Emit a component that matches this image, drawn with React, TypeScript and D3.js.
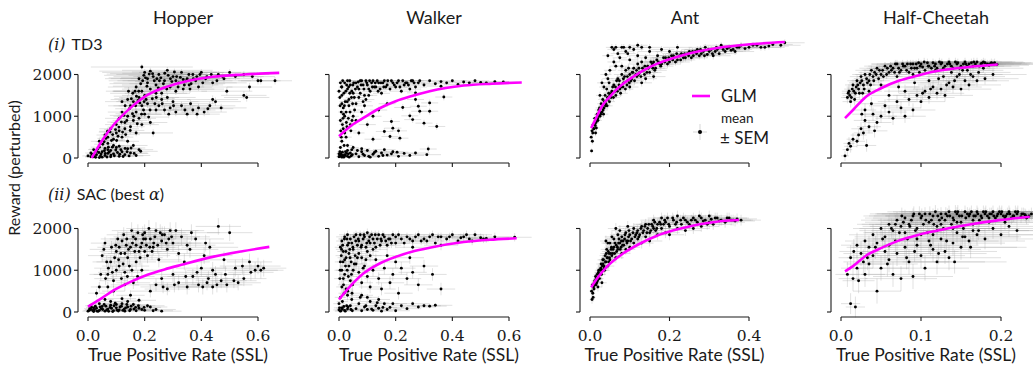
import React from 'react';
import * as d3 from 'd3';

type P = [number, number, number, number]; // x, y, xSEM, ySEM
type G = [number, number];

const envNames = ['Hopper', 'Walker', 'Ant', 'Half-Cheetah'];
const rowLabels = ['TD3', 'SAC (best '];
const xTicksByEnv = [
  [0, 0.2, 0.4, 0.6],
  [0, 0.2, 0.4, 0.6],
  [0, 0.2, 0.4],
  [0, 0.1, 0.2],
];
const yTicks = [0, 1000, 2000];

const hopperTD3: P[] = [
  [0.00,50,0.02,40],[0.01,120,0.02,50],[0.02,30,0.03,30],[0.03,80,0.03,40],[0.04,10,0.02,30],[0.05,150,0.03,50],[0.06,60,0.03,40],[0.07,200,0.04,60],[0.08,30,0.03,30],[0.09,100,0.04,50],[0.10,250,0.04,60],[0.11,40,0.03,40],[0.02,200,0.02,60],[0.04,260,0.03,60],[0.06,230,0.03,50],[0.12,150,0.05,50],[0.13,80,0.04,40],[0.08,180,0.03,50],[0.01,30,0.02,30],[0.05,20,0.03,30],[0.14,220,0.05,60],[0.03,160,0.02,50],[0.07,110,0.03,40],[0.15,120,0.06,50],[0.17,60,0.05,40],
  [0.04,400,0.03,80],[0.06,550,0.03,80],[0.07,350,0.03,70],[0.08,700,0.04,90],[0.09,450,0.04,80],[0.10,800,0.04,90],[0.10,600,0.04,80],[0.11,950,0.05,100],[0.12,500,0.04,80],[0.12,1100,0.05,100],[0.13,700,0.05,90],[0.13,850,0.05,90],[0.14,1000,0.05,100],[0.14,400,0.04,80],[0.15,1250,0.06,100],[0.15,750,0.05,90],[0.16,900,0.05,90],[0.16,1350,0.06,100],[0.17,1100,0.06,100],[0.17,600,0.05,80],[0.18,1450,0.07,100],[0.18,950,0.06,90],[0.19,1250,0.06,100],[0.19,800,0.06,90],[0.20,1500,0.08,100],[0.20,1050,0.06,100],[0.21,1300,0.07,100],[0.22,850,0.06,90],[0.09,300,0.04,70],[0.11,280,0.04,70],[0.16,300,0.05,70],[0.18,200,0.05,60],[0.23,600,0.07,90],[0.24,1150,0.08,100],[0.14,1400,0.06,100],[0.12,1350,0.06,100],[0.07,500,0.03,80],[0.11,650,0.04,90],
  [0.17,1700,0.10,90],[0.18,1900,0.12,90],[0.19,1600,0.10,90],[0.20,2050,0.15,80],[0.21,1800,0.12,90],[0.22,1650,0.10,90],[0.23,1950,0.14,80],[0.24,1750,0.12,90],[0.25,2000,0.15,80],[0.26,1550,0.10,90],[0.27,1850,0.13,90],[0.28,2100,0.16,80],[0.29,1700,0.12,90],[0.30,1950,0.14,80],[0.31,1600,0.11,90],[0.32,1800,0.13,90],[0.33,2050,0.15,80],[0.34,1750,0.12,90],[0.35,1900,0.14,80],[0.36,1650,0.12,90],[0.37,2000,0.15,80],[0.38,1850,0.13,90],[0.39,1700,0.12,90],[0.40,2050,0.14,80],[0.42,1950,0.13,80],[0.44,1800,0.12,90],[0.46,2000,0.12,80],[0.48,1900,0.12,90],[0.50,2050,0.10,80],[0.52,1950,0.10,80],[0.55,2000,0.09,80],[0.58,1950,0.08,80],[0.22,2080,0.18,80],[0.19,2180,0.18,70],[0.26,1400,0.10,100],[0.28,1450,0.10,100],[0.30,1350,0.09,100],[0.21,1900,0.13,90],[0.24,1550,0.11,90],[0.31,1850,0.13,90],
  [0.25,1250,0.08,100],[0.27,1150,0.08,100],[0.29,1200,0.08,100],[0.31,1100,0.08,100],[0.33,1250,0.09,100],[0.35,1050,0.08,100],[0.37,1150,0.08,100],[0.39,1200,0.09,100],[0.41,1100,0.08,100],[0.43,1250,0.09,100],[0.45,1350,0.09,100],[0.47,1200,0.09,100],
  [0.55,1500,0.08,100],[0.56,1450,0.08,100],[0.57,1700,0.08,100],[0.61,1850,0.07,90],[0.66,1850,0.06,90],[0.49,1600,0.09,100],[0.60,1850,0.07,90],
];
const hopperTD3More: P[] = [
  [0.015,90,0.02,40],[0.027,15,0.02,30],[0.033,210,0.03,50],[0.046,95,0.03,40],[0.058,175,0.03,50],[0.067,25,0.03,30],[0.074,140,0.03,40],[0.086,260,0.04,60],[0.093,55,0.03,40],[0.104,130,0.04,50],[0.116,200,0.04,50],[0.124,35,0.04,30],[0.138,150,0.05,50],[0.152,240,0.05,60],[0.163,110,0.05,40],[0.186,160,0.06,50],
  [0.052,330,0.03,70],[0.063,470,0.03,80],[0.078,620,0.04,80],[0.083,420,0.04,80],[0.097,680,0.04,90],[0.106,520,0.04,80],[0.118,860,0.05,90],[0.127,1020,0.05,100],[0.133,560,0.05,80],[0.146,1180,0.05,100],[0.157,1060,0.06,100],[0.168,1250,0.06,100],[0.174,820,0.06,90],[0.183,1320,0.07,100],[0.196,1150,0.07,100],[0.205,1400,0.08,100],[0.214,980,0.07,100],[0.227,1420,0.08,100],[0.236,1300,0.08,100],[0.158,1550,0.08,100],[0.171,1480,0.08,100],[0.143,1600,0.08,100],
  [0.186,1780,0.11,90],[0.197,1980,0.14,80],[0.208,1720,0.12,90],[0.216,2010,0.15,80],[0.234,1850,0.13,90],[0.248,1680,0.12,90],[0.257,1920,0.14,80],[0.266,1780,0.12,90],[0.283,1980,0.14,80],[0.296,1830,0.13,90],[0.305,2060,0.15,80],[0.318,1700,0.12,90],[0.326,1930,0.14,80],[0.347,1850,0.13,90],[0.356,2000,0.14,80],[0.364,1780,0.12,90],[0.384,1950,0.13,80],[0.405,1800,0.12,90],[0.415,1900,0.12,90],[0.435,2000,0.12,80],[0.455,1850,0.12,90],[0.475,1950,0.11,80],
  [0.262,1300,0.09,100],[0.285,1050,0.08,100],[0.302,1250,0.09,100],[0.342,1150,0.09,100],[0.362,1300,0.09,100],[0.385,1050,0.08,100],[0.423,1180,0.09,100],[0.44,1400,0.09,100],
];
const hopperTD3Extra: P[] = [
  [0.022,60,0.02,30],[0.038,130,0.02,40],[0.044,45,0.02,30],[0.061,110,0.03,40],[0.072,260,0.03,60],[0.081,70,0.03,30],[0.098,190,0.04,50],[0.112,90,0.04,40],[0.131,230,0.04,60],[0.145,50,0.05,30],
  [0.057,390,0.03,70],[0.069,640,0.03,80],[0.087,560,0.04,80],[0.101,420,0.04,70],[0.109,740,0.04,90],[0.122,620,0.05,80],[0.137,900,0.05,90],[0.149,660,0.05,90],[0.162,1000,0.06,100],[0.177,1380,0.07,100],[0.189,1050,0.07,100],[0.198,1350,0.07,100],[0.219,1150,0.07,100],[0.241,1450,0.08,100],[0.131,1250,0.06,100],[0.153,1420,0.06,100],[0.166,1600,0.08,100],[0.179,1600,0.09,100],
  [0.193,1850,0.12,90],[0.203,1920,0.13,90],[0.228,2020,0.15,80],[0.243,1900,0.13,90],[0.271,2030,0.15,80],[0.291,1900,0.14,80],[0.313,1950,0.14,80],[0.336,1880,0.13,90],[0.372,1900,0.13,80],[0.395,2000,0.13,80],[0.252,1850,0.13,90],[0.278,1650,0.11,90],[0.336,1650,0.11,90],[0.357,1750,0.12,90],
];

const hopperSAC: P[] = [
  [0.00,20,0.02,30],[0.01,60,0.02,40],[0.02,10,0.02,30],[0.03,90,0.03,40],[0.04,40,0.03,30],[0.05,130,0.03,50],[0.06,20,0.03,30],[0.07,70,0.03,40],[0.08,160,0.04,50],[0.09,30,0.04,30],[0.10,100,0.04,40],[0.11,50,0.04,40],[0.12,200,0.05,60],[0.13,20,0.04,30],[0.14,120,0.05,50],[0.15,60,0.05,40],[0.16,180,0.05,60],[0.17,30,0.05,30],[0.18,90,0.06,40],[0.20,40,0.06,30],[0.22,120,0.06,50],[0.24,60,0.07,40],[0.26,20,0.07,30],[0.08,250,0.04,60],[0.04,200,0.03,60],[0.12,320,0.05,80],[0.18,280,0.06,70],[0.01,150,0.02,50],[0.06,300,0.03,70],[0.02,100,0.02,40],[0.10,180,0.04,50],[0.14,250,0.05,60],
  [0.05,1350,0.05,150],[0.06,1650,0.05,150],[0.07,900,0.05,150],[0.08,1200,0.05,150],[0.09,750,0.05,150],[0.10,1450,0.06,180],[0.11,1100,0.06,150],[0.12,1700,0.06,180],[0.13,950,0.06,150],[0.14,1300,0.07,180],[0.15,1550,0.07,180],[0.16,1800,0.07,180],[0.17,1200,0.07,180],[0.18,1450,0.08,180],[0.19,1650,0.08,200],[0.20,1900,0.08,200],[0.21,1350,0.08,180],[0.22,1750,0.09,200],[0.23,1550,0.09,200],[0.24,1950,0.09,200],[0.25,1250,0.08,180],[0.26,1700,0.09,200],[0.27,1850,0.09,200],[0.28,1500,0.09,200],[0.29,1950,0.10,200],[0.30,1650,0.10,200],[0.31,1950,0.10,200],[0.32,1400,0.09,200],[0.07,600,0.04,120],[0.09,500,0.04,120],[0.10,1000,0.05,150],[0.13,650,0.05,150],[0.15,400,0.05,120],[0.16,700,0.06,150],[0.19,1000,0.07,180],[0.03,450,0.03,100],[0.04,600,0.03,120],[0.11,1550,0.06,180],[0.17,1600,0.07,180],[0.20,1450,0.08,200],[0.13,1400,0.06,180],
  [0.22,500,0.07,150],[0.24,650,0.08,150],[0.26,800,0.08,180],[0.28,550,0.08,150],[0.30,900,0.09,180],[0.32,700,0.09,180],[0.34,1200,0.09,200],[0.35,600,0.09,180],[0.36,1500,0.10,200],[0.37,850,0.09,180],[0.38,1750,0.10,200],[0.39,650,0.09,180],[0.40,1050,0.09,200],[0.41,1350,0.10,200],[0.42,700,0.09,180],[0.43,1550,0.10,200],[0.44,600,0.09,180],[0.45,900,0.09,200],[0.46,2050,0.08,200],[0.47,750,0.09,180],[0.48,1250,0.09,200],[0.49,650,0.09,180],[0.50,1900,0.08,200],[0.52,1050,0.09,200],[0.53,700,0.08,180],[0.55,800,0.08,180],[0.57,1200,0.08,200],[0.59,1000,0.08,200],[0.60,1100,0.08,200],[0.61,1000,0.08,200],[0.62,1050,0.08,200],[0.33,1800,0.10,200],[0.35,1600,0.10,200],[0.44,1000,0.09,200],
];
const hopperSACMore: P[] = [
  [0.006,80,0.02,40],[0.017,35,0.02,30],[0.026,140,0.03,50],[0.036,15,0.03,30],[0.047,75,0.03,40],[0.057,180,0.03,50],[0.066,50,0.03,40],[0.078,110,0.04,40],[0.087,10,0.04,30],[0.096,210,0.04,60],[0.107,25,0.04,30],[0.118,140,0.05,50],[0.128,70,0.05,40],[0.137,180,0.05,50],[0.147,30,0.05,30],[0.168,110,0.05,40],[0.19,60,0.06,40],[0.21,150,0.06,50],[0.23,30,0.07,30],
  [0.056,1500,0.05,150],[0.066,1200,0.05,150],[0.083,1550,0.05,150],[0.094,1300,0.05,150],[0.105,1750,0.06,180],[0.116,1400,0.06,180],[0.126,1850,0.06,180],[0.135,1600,0.06,180],[0.146,1100,0.07,180],[0.154,1950,0.07,200],[0.165,1450,0.07,180],[0.176,1900,0.07,200],[0.184,1300,0.08,180],[0.196,1750,0.08,200],[0.206,1600,0.08,200],[0.215,2000,0.08,200],[0.226,1450,0.09,200],[0.236,1800,0.09,200],[0.246,1600,0.09,200],[0.255,1900,0.09,200],[0.276,1650,0.09,200],[0.295,1800,0.10,200],[0.086,950,0.05,150],[0.124,1150,0.06,150],[0.155,1000,0.06,150],[0.175,850,0.06,150],
  [0.265,600,0.08,150],[0.305,650,0.09,180],[0.345,850,0.09,180],[0.385,950,0.09,180],[0.405,600,0.09,180],[0.425,800,0.09,180],[0.455,650,0.09,180],[0.485,900,0.09,200],[0.515,750,0.08,180],[0.545,1100,0.08,200],[0.575,950,0.08,200],[0.415,1650,0.10,200],[0.365,1900,0.10,200],
];
const hopperSACExtra: P[] = [
  [0.004,40,0.02,30],[0.013,110,0.02,40],[0.023,55,0.02,30],[0.032,20,0.03,30],[0.043,120,0.03,40],[0.052,60,0.03,30],[0.063,140,0.03,40],[0.073,15,0.03,30],[0.083,90,0.04,40],[0.092,150,0.04,50],[0.102,45,0.04,30],[0.113,120,0.04,40],[0.123,40,0.05,30],[0.133,100,0.05,40],[0.152,140,0.05,50],[0.162,70,0.05,40],[0.178,150,0.06,50],[0.198,110,0.06,40],
  [0.072,1050,0.05,150],[0.098,1600,0.05,180],[0.108,1250,0.06,150],[0.137,1750,0.06,180],[0.143,1500,0.07,180],[0.157,1650,0.07,180],[0.168,1750,0.07,180],[0.186,1550,0.08,180],[0.193,1850,0.08,200],[0.203,1750,0.08,200],[0.218,1550,0.09,200],[0.232,1650,0.09,200],[0.262,1850,0.09,200],[0.285,1750,0.09,200],[0.118,800,0.05,150],[0.139,850,0.06,150],[0.062,800,0.04,150],[0.045,900,0.04,150],
];

const walkerTD3: P[] = [
  [0.00,100,0.01,40],[0.00,30,0.01,30],[0.005,60,0.01,30],[0.01,1700,0.01,60],[0.01,1500,0.01,60],[0.015,1200,0.01,70],[0.005,900,0.01,70],[0.02,1800,0.02,50],[0.02,600,0.01,70],[0.01,400,0.01,60],[0.025,1100,0.02,70],[0.03,1650,0.02,60],[0.03,300,0.02,60],[0.035,1400,0.02,70],[0.04,800,0.02,70],[0.04,1750,0.02,50],[0.045,200,0.02,50],[0.05,1550,0.02,60],[0.05,1000,0.02,70],[0.01,1300,0.01,70],[0.02,1000,0.01,70],[0.03,1850,0.02,50],[0.00,1600,0.01,60],[0.015,700,0.01,70],[0.025,500,0.02,60],[0.005,250,0.01,50],[0.01,20,0.01,30],[0.02,80,0.01,30],[0.03,40,0.02,30],[0.04,120,0.02,40],[0.005,1800,0.01,50],[0.035,1250,0.02,70],[0.045,1600,0.02,60],
  [0.06,1800,0.03,50],[0.07,1650,0.03,60],[0.08,1850,0.03,50],[0.09,1500,0.03,60],[0.10,1750,0.03,50],[0.11,1600,0.03,60],[0.12,1850,0.03,50],[0.13,1700,0.03,60],[0.14,1800,0.03,50],[0.15,1550,0.03,60],[0.16,1850,0.03,50],[0.17,1750,0.03,50],[0.18,1650,0.03,60],[0.19,1800,0.04,50],[0.20,1700,0.04,50],[0.21,1850,0.04,50],[0.22,1600,0.04,60],[0.23,1750,0.04,50],[0.24,1800,0.04,50],[0.25,1650,0.04,60],[0.26,1850,0.04,50],[0.27,1700,0.04,50],[0.28,1800,0.04,50],[0.30,1750,0.04,50],[0.06,1300,0.02,70],[0.07,1450,0.02,70],[0.08,1100,0.02,70],[0.09,1250,0.03,70],[0.06,900,0.02,70],[0.07,600,0.02,70],
  [0.32,1850,0.05,40],[0.34,1780,0.05,40],[0.36,1830,0.05,40],[0.38,1800,0.05,40],[0.40,1850,0.05,40],[0.42,1760,0.05,40],[0.44,1820,0.05,40],[0.46,1800,0.05,40],[0.48,1850,0.05,40],[0.50,1810,0.05,40],[0.52,1800,0.05,40],[0.55,1830,0.05,40],[0.58,1820,0.05,40],[0.36,1720,0.05,40],
  [0.225,1210,0.03,80],[0.25,1010,0.03,80],[0.26,920,0.03,80],[0.28,1240,0.03,80],[0.285,1120,0.03,80],[0.30,835,0.03,80],[0.32,1120,0.03,80],[0.32,1320,0.03,80],[0.345,755,0.03,80],[0.37,1460,0.03,80],[0.185,875,0.03,80],[0.19,715,0.03,80],[0.16,635,0.03,80],[0.12,450,0.03,80],[0.21,650,0.03,80],[0.215,475,0.03,80],[0.18,515,0.03,80],[0.315,215,0.03,80],[0.27,1400,0.03,80],[0.27,1560,0.03,80],[0.10,800,0.03,80],[0.12,1000,0.03,80],[0.14,1150,0.03,80],[0.17,1300,0.03,80],
  [0.06,100,0.03,40],[0.07,30,0.03,30],[0.08,150,0.03,40],[0.09,60,0.03,30],[0.10,180,0.03,40],[0.11,20,0.03,30],[0.12,90,0.03,40],[0.13,160,0.04,40],[0.14,40,0.04,30],[0.15,120,0.04,40],[0.17,70,0.04,30],[0.19,150,0.04,40],[0.21,40,0.04,30],[0.23,110,0.05,40],[0.25,60,0.05,30],[0.27,120,0.05,40],[0.31,80,0.05,40],[0.08,220,0.03,50],[0.05,250,0.02,50],[0.16,200,0.04,50],[0.03,180,0.02,40],
];
const walkerTD3More: P[] = [
  [0.003,1450,0.01,60],[0.008,1100,0.01,70],[0.012,800,0.01,70],[0.017,1550,0.01,60],[0.022,1350,0.02,70],[0.027,1750,0.02,50],[0.033,950,0.02,70],[0.038,1550,0.02,60],[0.042,650,0.02,70],[0.048,1300,0.02,70],[0.052,1800,0.02,50],[0.055,1150,0.02,70],[0.008,500,0.01,60],[0.018,300,0.01,50],[0.028,750,0.02,70],[0.003,150,0.01,40],[0.013,60,0.01,30],[0.023,150,0.01,40],[0.033,100,0.02,40],[0.043,50,0.02,30],[0.013,1850,0.01,50],[0.038,1850,0.02,50],
  [0.065,1700,0.03,50],[0.075,1850,0.03,50],[0.085,1750,0.03,50],[0.095,1850,0.03,50],[0.105,1650,0.03,60],[0.115,1800,0.03,50],[0.125,1700,0.03,50],[0.135,1850,0.03,50],[0.145,1650,0.03,60],[0.155,1800,0.03,50],[0.165,1700,0.03,50],[0.185,1850,0.04,50],[0.205,1800,0.04,50],[0.225,1850,0.04,50],[0.245,1750,0.04,50],[0.265,1800,0.04,50],[0.285,1850,0.04,50],[0.075,1550,0.03,60],[0.095,1400,0.03,70],[0.105,1500,0.03,60],[0.085,1350,0.03,70],
  [0.065,180,0.03,40],[0.085,90,0.03,40],[0.105,40,0.03,30],[0.125,130,0.04,40],[0.155,60,0.04,30],[0.185,100,0.04,40],[0.205,140,0.04,40],
];
const walkerTD3Extra: P[] = [
  [0.002,40,0.01,30],[0.007,90,0.01,30],[0.012,140,0.01,40],[0.017,20,0.01,30],[0.022,60,0.01,30],[0.027,110,0.02,40],[0.036,20,0.02,30],[0.047,80,0.02,30],[0.004,1250,0.01,70],[0.009,1700,0.01,60],[0.014,950,0.01,70],[0.019,1250,0.01,70],[0.024,1600,0.02,60],[0.029,1350,0.02,70],[0.034,1700,0.02,60],[0.039,1100,0.02,70],[0.044,1450,0.02,70],[0.049,1750,0.02,50],[0.054,1450,0.02,70],[0.058,1650,0.02,60],[0.006,650,0.01,70],[0.016,1050,0.01,70],[0.026,850,0.02,70],[0.046,900,0.02,70],
  [0.068,1820,0.03,50],[0.078,1750,0.03,50],[0.088,1650,0.03,60],[0.098,1800,0.03,50],[0.108,1850,0.03,50],[0.118,1700,0.03,50],[0.128,1800,0.03,50],[0.138,1600,0.03,60],[0.148,1800,0.03,50],[0.158,1700,0.03,50],[0.172,1850,0.03,50],[0.195,1750,0.04,50],[0.215,1700,0.04,50],[0.235,1800,0.04,50],[0.255,1850,0.04,50],
];

const walkerSAC: P[] = [
  [0.00,50,0.02,40],[0.005,20,0.02,30],[0.01,100,0.02,50],[0.00,200,0.02,60],[0.01,1700,0.02,120],[0.015,1450,0.02,150],[0.005,1200,0.02,150],[0.02,1800,0.03,100],[0.02,900,0.02,150],[0.01,600,0.02,150],[0.025,1300,0.03,150],[0.03,1600,0.03,150],[0.03,400,0.02,120],[0.035,1100,0.03,150],[0.04,750,0.03,150],[0.04,1750,0.03,120],[0.045,300,0.03,100],[0.05,1500,0.03,150],[0.05,1000,0.03,150],[0.01,1000,0.02,150],[0.02,1250,0.02,150],[0.03,1850,0.03,100],[0.015,800,0.02,150],[0.025,550,0.02,120],[0.005,350,0.02,100],[0.02,40,0.02,30],[0.03,70,0.02,40],[0.04,150,0.03,50],[0.035,1400,0.03,150],[0.045,1650,0.03,130],[0.005,1550,0.02,130],
  [0.06,1850,0.04,100],[0.07,1700,0.04,120],[0.08,1600,0.04,120],[0.09,1800,0.04,100],[0.10,1900,0.04,100],[0.11,1650,0.04,120],[0.12,1750,0.05,120],[0.13,1550,0.05,120],[0.14,1850,0.05,100],[0.15,1700,0.05,120],[0.16,1800,0.05,100],[0.17,1600,0.05,120],[0.18,1750,0.05,120],[0.19,1850,0.05,100],[0.20,1650,0.05,120],[0.22,1750,0.05,120],[0.24,1800,0.05,100],[0.26,1700,0.06,120],[0.28,1850,0.06,100],[0.30,1750,0.06,100],[0.32,1800,0.06,100],[0.34,1650,0.06,120],[0.36,1800,0.06,100],[0.38,1750,0.06,100],[0.40,1850,0.06,100],[0.42,1700,0.06,100],[0.44,1800,0.06,100],[0.46,1750,0.06,100],[0.48,1850,0.06,100],[0.50,1780,0.06,100],[0.52,1760,0.06,100],[0.55,1800,0.06,100],[0.62,1790,0.06,100],[0.07,1400,0.04,150],[0.08,1300,0.04,150],[0.10,1450,0.04,150],[0.12,1500,0.05,150],[0.11,1350,0.04,150],[0.36,1600,0.06,120],[0.26,1550,0.06,120],
  [0.06,1150,0.04,150],[0.07,950,0.04,150],[0.08,700,0.04,150],[0.09,1100,0.04,150],[0.10,850,0.04,150],[0.11,600,0.04,150],[0.12,1000,0.04,150],[0.13,1250,0.05,150],[0.14,800,0.05,150],[0.15,550,0.05,150],[0.16,1050,0.05,150],[0.17,1350,0.05,150],[0.18,700,0.05,150],[0.19,900,0.05,150],[0.20,1200,0.05,150],[0.21,450,0.05,150],[0.22,1050,0.05,150],[0.24,800,0.05,150],[0.26,950,0.05,150],[0.28,650,0.05,150],[0.30,1100,0.05,150],[0.33,900,0.05,150],[0.36,550,0.05,150],[0.25,1300,0.05,150],
  [0.06,80,0.03,40],[0.07,200,0.03,60],[0.08,30,0.03,30],[0.09,120,0.03,50],[0.10,60,0.04,40],[0.11,250,0.04,60],[0.12,40,0.04,30],[0.13,150,0.04,50],[0.14,90,0.04,40],[0.15,20,0.04,30],[0.16,200,0.05,60],[0.17,60,0.05,40],[0.18,110,0.05,50],[0.20,30,0.05,30],[0.22,150,0.05,50],[0.24,80,0.05,40],[0.26,200,0.06,60],[0.28,120,0.06,50],[0.30,150,0.06,50],[0.32,140,0.06,50],[0.34,160,0.06,50],[0.10,350,0.04,80],[0.08,400,0.04,80],[0.14,300,0.04,80],
];
const walkerSACMore: P[] = [
  [0.003,800,0.02,150],[0.008,1350,0.02,150],[0.013,1600,0.02,130],[0.018,450,0.02,120],[0.023,1100,0.02,150],[0.028,1750,0.03,120],[0.033,850,0.03,150],[0.038,1500,0.03,150],[0.043,1200,0.03,150],[0.048,650,0.03,150],[0.053,1800,0.03,120],[0.057,1350,0.03,150],[0.012,250,0.02,60],[0.027,150,0.02,50],[0.042,60,0.03,40],
  [0.065,1600,0.04,130],[0.075,1850,0.04,100],[0.085,1750,0.04,120],[0.095,1550,0.04,130],[0.105,1700,0.04,120],[0.115,1850,0.04,100],[0.125,1650,0.05,120],[0.135,1750,0.05,120],[0.145,1600,0.05,120],[0.155,1850,0.05,100],[0.175,1750,0.05,120],[0.21,1850,0.05,100],[0.23,1650,0.05,120],[0.27,1800,0.06,100],[0.31,1700,0.06,100],[0.35,1800,0.06,100],[0.43,1780,0.06,100],[0.47,1700,0.06,100],
  [0.065,1300,0.04,150],[0.085,1050,0.04,150],[0.095,1250,0.04,150],[0.075,350,0.04,80],[0.095,150,0.04,50],[0.115,70,0.04,40],[0.135,220,0.04,60],[0.155,110,0.05,50],[0.19,200,0.05,60],
];
const walkerSACExtra: P[] = [
  [0.002,100,0.02,40],[0.007,30,0.02,30],[0.012,70,0.02,40],[0.017,130,0.02,50],[0.022,20,0.02,30],[0.032,120,0.02,40],[0.047,30,0.03,30],[0.004,1000,0.02,150],[0.009,1500,0.02,130],[0.014,1200,0.02,150],[0.019,1750,0.02,120],[0.024,1450,0.03,150],[0.029,1000,0.03,150],[0.034,1650,0.03,130],[0.039,1300,0.03,150],[0.044,900,0.03,150],[0.049,1550,0.03,150],[0.054,1150,0.03,150],[0.059,1700,0.03,130],[0.016,650,0.02,150],[0.031,500,0.02,120],[0.046,450,0.03,120],
  [0.068,1750,0.04,120],[0.078,1550,0.04,130],[0.088,1850,0.04,100],[0.098,1650,0.04,120],[0.108,1800,0.04,100],[0.128,1850,0.05,100],[0.148,1750,0.05,120],[0.165,1700,0.05,120],[0.185,1650,0.05,120],[0.2,1800,0.05,100],[0.25,1750,0.06,100],[0.29,1700,0.06,100],[0.33,1850,0.06,100],[0.39,1800,0.06,100],[0.45,1850,0.06,100],[0.51,1750,0.06,100],
];

const antTD3: P[] = [
  [0.004,170,0.005,60],[0.003,500,0.005,80],[0.005,650,0.005,80],[0.006,400,0.005,80],[0.008,800,0.006,80],[0.01,700,0.006,80],[0.012,950,0.007,90],[0.014,600,0.007,80],[0.015,850,0.008,90],[0.018,1050,0.008,90],[0.02,900,0.01,90],[0.022,1150,0.01,90],[0.025,1000,0.01,90],[0.028,1300,0.01,90],[0.03,1100,0.01,90],[0.032,1400,0.012,90],[0.035,1200,0.012,90],[0.038,1500,0.012,90],[0.04,1300,0.012,90],[0.042,1650,0.014,90],[0.045,1400,0.014,90],[0.048,1800,0.014,90],[0.05,1500,0.015,90],[0.05,2100,0.015,90],[0.055,1600,0.015,90],[0.06,1750,0.016,90],[0.06,2300,0.016,90],[0.065,1500,0.016,90],[0.07,1900,0.018,90],[0.07,2500,0.018,80],[0.075,1650,0.018,90],[0.08,2000,0.02,90],[0.08,2200,0.02,90],[0.085,1800,0.02,90],[0.09,2100,0.02,90],[0.09,2550,0.02,80],[0.095,1850,0.02,90],[0.10,2000,0.022,90],[0.10,2350,0.022,90],[0.105,1900,0.022,90],[0.11,2150,0.024,90],[0.11,2600,0.024,80],[0.115,2000,0.024,90],[0.12,2250,0.025,90],[0.12,2450,0.025,90],[0.125,2050,0.025,90],[0.13,2300,0.026,90],[0.135,2100,0.026,90],[0.14,2400,0.028,90],[0.145,2200,0.028,90],[0.15,2050,0.03,90],[0.15,2550,0.03,80],[0.16,2300,0.03,90],[0.165,2150,0.03,90],[0.17,2450,0.032,90],[0.18,2250,0.032,90],[0.18,2600,0.032,80],[0.19,2400,0.034,90],[0.20,2300,0.035,90],[0.20,2550,0.035,80],[0.21,2450,0.035,90],[0.22,2350,0.036,90],[0.22,2650,0.036,80],[0.23,2500,0.038,90],[0.24,2400,0.04,90],[0.25,2550,0.04,80],[0.26,2450,0.04,90],[0.27,2600,0.04,80],[0.28,2500,0.042,90],[0.29,2650,0.042,80],[0.30,2550,0.044,80],[0.31,2450,0.044,90],[0.32,2600,0.045,80],[0.33,2700,0.045,80],[0.34,2550,0.046,80],[0.35,2650,0.046,80],[0.36,2600,0.048,80],[0.38,2700,0.05,80],[0.40,2650,0.05,80],[0.42,2700,0.05,80],[0.44,2650,0.05,80],[0.46,2720,0.05,80],[0.48,2700,0.05,80],[0.49,2760,0.05,80],[0.03,1800,0.012,90],[0.04,2000,0.014,90],[0.06,2600,0.016,80],[0.025,1500,0.01,90],[0.10,1700,0.022,90],[0.13,1800,0.026,90],[0.16,1950,0.03,90],[0.14,1900,0.028,90],[0.08,2650,0.02,80],[0.12,2700,0.025,80],[0.055,2650,0.015,80],[0.10,2650,0.022,80],[0.15,2650,0.03,80],
];
const antTD3More: P[] = [
  [0.007,600,0.005,80],[0.011,820,0.006,80],[0.016,720,0.008,90],[0.019,950,0.008,90],[0.024,1200,0.01,90],[0.027,1050,0.01,90],[0.033,1150,0.012,90],[0.036,1350,0.012,90],[0.043,1250,0.014,90],[0.047,1550,0.014,90],[0.053,1450,0.015,90],[0.057,1700,0.016,90],[0.063,1600,0.016,90],[0.067,1850,0.018,90],[0.073,1750,0.018,90],[0.077,1550,0.018,90],[0.083,1700,0.02,90],[0.087,1950,0.02,90],[0.093,1750,0.02,90],[0.097,2150,0.022,90],[0.103,1850,0.022,90],[0.108,2050,0.022,90],[0.118,1950,0.024,90],[0.123,2150,0.025,90],[0.128,1950,0.026,90],[0.138,2200,0.027,90],[0.143,2050,0.028,90],[0.153,2300,0.03,90],[0.158,2150,0.03,90],[0.168,2350,0.032,90],[0.175,2250,0.032,90],[0.185,2400,0.033,90],[0.195,2250,0.034,90],[0.205,2450,0.035,90],[0.215,2300,0.036,90],[0.225,2450,0.037,90],[0.235,2400,0.038,90],[0.245,2500,0.04,90],[0.255,2400,0.04,90],[0.265,2550,0.04,90],[0.275,2450,0.04,90],[0.285,2550,0.042,90],[0.295,2480,0.042,90],[0.305,2600,0.044,80],[0.315,2550,0.044,80],[0.325,2500,0.045,80],[0.345,2620,0.046,80],[0.365,2550,0.048,80],[0.375,2650,0.05,80],[0.41,2700,0.05,80],[0.43,2650,0.05,80],[0.035,1700,0.012,90],[0.045,1900,0.014,90],[0.065,2200,0.016,90],[0.075,2400,0.018,90],[0.085,2650,0.02,80],[0.095,2500,0.02,80],[0.065,2650,0.016,80],[0.13,2650,0.026,80],[0.045,2450,0.014,80],
];
const antTD3Extra: P[] = [
  [0.009,700,0.005,80],[0.013,780,0.006,80],[0.017,900,0.008,90],[0.021,1000,0.008,90],[0.026,1100,0.01,90],[0.031,1250,0.01,90],[0.034,1050,0.012,90],[0.039,1250,0.012,90],[0.044,1450,0.014,90],[0.049,1350,0.014,90],[0.054,1550,0.015,90],[0.059,1450,0.016,90],[0.064,1700,0.016,90],[0.069,1600,0.018,90],[0.074,1850,0.018,90],[0.079,1700,0.02,90],[0.084,1900,0.02,90],[0.089,1650,0.02,90],[0.094,1950,0.02,90],[0.099,1800,0.022,90],[0.106,2050,0.022,90],[0.112,1850,0.024,90],[0.117,2100,0.024,90],[0.122,2000,0.025,90],[0.132,2150,0.026,90],[0.137,2000,0.026,90],[0.147,2150,0.028,90],[0.157,2250,0.03,90],[0.163,2100,0.03,90],[0.172,2300,0.032,90],[0.178,2200,0.032,90],[0.188,2300,0.033,90],[0.198,2400,0.034,90],[0.208,2350,0.035,90],[0.218,2500,0.036,90],[0.228,2350,0.037,90],[0.238,2500,0.038,90],[0.248,2450,0.04,90],[0.258,2550,0.04,90],[0.268,2500,0.04,90],[0.278,2600,0.04,90],[0.288,2450,0.042,90],[0.298,2600,0.042,80],[0.308,2500,0.044,80],[0.318,2650,0.044,80],[0.335,2600,0.045,80],[0.355,2580,0.046,80],[0.37,2650,0.048,80],[0.39,2620,0.05,80],[0.45,2680,0.05,80],
];

const antSAC: P[] = [
  [0.005,300,0.006,100],[0.008,350,0.006,100],[0.004,500,0.006,100],[0.006,650,0.006,100],[0.01,550,0.007,100],[0.012,750,0.008,110],[0.015,650,0.008,110],[0.018,900,0.009,110],[0.02,800,0.01,110],[0.022,1000,0.01,120],[0.025,900,0.011,120],[0.028,1150,0.012,120],[0.03,1000,0.012,120],[0.032,1250,0.013,120],[0.035,1100,0.013,120],[0.038,1350,0.014,120],[0.04,1200,0.015,120],[0.042,1500,0.015,130],[0.045,1100,0.016,120],[0.048,1400,0.016,130],[0.05,1250,0.017,130],[0.05,1650,0.017,130],[0.055,1350,0.018,130],[0.06,1550,0.019,130],[0.06,1750,0.019,130],[0.065,1300,0.02,130],[0.07,1500,0.02,130],[0.075,1650,0.021,130],[0.08,1400,0.022,130],[0.08,1800,0.022,130],[0.085,1600,0.023,130],[0.09,1500,0.024,130],[0.09,1900,0.024,130],[0.095,1700,0.025,130],[0.10,1550,0.026,130],[0.10,1850,0.026,130],[0.11,1650,0.027,130],[0.11,2000,0.027,130],[0.12,1750,0.028,130],[0.12,1950,0.028,130],[0.13,1650,0.03,130],[0.13,2050,0.03,130],[0.14,1800,0.03,130],[0.14,2100,0.03,130],[0.15,1900,0.032,130],[0.15,1700,0.032,130],[0.16,2000,0.033,130],[0.16,2200,0.033,130],[0.17,1850,0.034,130],[0.17,2100,0.034,130],[0.18,2000,0.035,130],[0.18,2250,0.035,130],[0.19,1900,0.036,130],[0.19,2150,0.036,130],[0.20,2050,0.037,130],[0.20,1850,0.037,130],[0.21,2200,0.038,130],[0.22,2000,0.04,130],[0.22,2300,0.04,130],[0.23,2100,0.04,130],[0.24,2200,0.04,130],[0.24,1950,0.04,130],[0.25,2100,0.042,130],[0.26,2250,0.042,130],[0.26,2000,0.042,130],[0.27,2150,0.044,130],[0.28,2250,0.045,130],[0.28,2050,0.045,130],[0.29,2200,0.046,130],[0.30,2150,0.047,130],[0.30,2300,0.047,130],[0.31,2100,0.048,130],[0.32,2250,0.05,130],[0.33,2200,0.05,130],[0.34,2150,0.05,130],[0.35,2250,0.05,130],[0.36,2200,0.05,130],[0.37,2230,0.05,130],[0.38,2200,0.05,130],[0.04,1700,0.015,130],[0.07,1850,0.02,130],[0.065,2000,0.02,130],[0.03,700,0.012,110],[0.02,600,0.01,110],
];
const antSACMore: P[] = [
  [0.007,450,0.006,100],[0.011,700,0.007,100],[0.014,850,0.008,110],[0.017,700,0.008,110],[0.021,950,0.01,110],[0.024,800,0.01,120],[0.027,1050,0.011,120],[0.033,1150,0.012,120],[0.037,1000,0.013,120],[0.043,1300,0.015,120],[0.047,1200,0.016,120],[0.053,1500,0.017,130],[0.057,1400,0.018,130],[0.063,1650,0.019,130],[0.067,1450,0.02,130],[0.073,1750,0.021,130],[0.078,1550,0.022,130],[0.083,1700,0.022,130],[0.088,1850,0.023,130],[0.093,1650,0.024,130],[0.098,1950,0.025,130],[0.105,1750,0.026,130],[0.115,1850,0.027,130],[0.125,1850,0.028,130],[0.135,1950,0.03,130],[0.145,2000,0.03,130],[0.155,2100,0.032,130],[0.165,1950,0.033,130],[0.175,2150,0.034,130],[0.185,2100,0.035,130],[0.195,2250,0.036,130],[0.215,2100,0.038,130],[0.235,2250,0.04,130],[0.255,2200,0.042,130],[0.275,2300,0.044,130],[0.295,2100,0.046,130],[0.315,2250,0.048,130],[0.345,2250,0.05,130],[0.365,2180,0.05,130],[0.055,1800,0.018,130],[0.075,1950,0.021,130],[0.095,2050,0.025,130],[0.045,1650,0.016,130],
];
const antSACExtra: P[] = [
  [0.009,600,0.006,100],[0.013,650,0.007,100],[0.016,800,0.008,110],[0.019,750,0.008,110],[0.023,900,0.01,110],[0.026,1000,0.01,120],[0.029,900,0.011,120],[0.031,1100,0.012,120],[0.034,1250,0.012,120],[0.036,1050,0.013,120],[0.039,1200,0.014,120],[0.041,1400,0.015,120],[0.044,1300,0.015,120],[0.046,1450,0.016,120],[0.049,1300,0.016,130],[0.052,1400,0.017,130],[0.054,1550,0.018,130],[0.058,1500,0.018,130],[0.062,1400,0.019,130],[0.066,1600,0.02,130],[0.069,1550,0.02,130],[0.072,1650,0.021,130],[0.076,1500,0.021,130],[0.079,1700,0.022,130],[0.082,1600,0.022,130],[0.087,1750,0.023,130],[0.092,1700,0.024,130],[0.097,1800,0.025,130],[0.102,1700,0.026,130],[0.108,1900,0.026,130],[0.113,1800,0.027,130],[0.118,1900,0.028,130],[0.123,1800,0.028,130],[0.128,2000,0.03,130],[0.133,1900,0.03,130],[0.138,2050,0.03,130],[0.143,1900,0.03,130],[0.148,2100,0.032,130],[0.153,1950,0.032,130],[0.158,2050,0.033,130],[0.163,2150,0.033,130],[0.168,2000,0.034,130],[0.178,2100,0.035,130],[0.188,2200,0.036,130],[0.198,2100,0.037,130],[0.208,2250,0.038,130],[0.218,2150,0.04,130],[0.228,2200,0.04,130],[0.245,2150,0.042,130],[0.265,2200,0.044,130],[0.285,2180,0.046,130],[0.305,2220,0.048,130],[0.325,2180,0.05,130],[0.355,2200,0.05,130],
];

const cheetahTD3: P[] = [
  [0.005,50,0.005,120],[0.008,200,0.006,150],[0.01,350,0.007,150],[0.012,280,0.008,150],[0.015,450,0.008,150],[0.02,400,0.01,150],[0.022,550,0.01,150],[0.025,700,0.012,160],[0.028,600,0.012,160],[0.03,900,0.014,160],[0.032,300,0.012,150],[0.035,750,0.015,160],[0.04,1050,0.016,160],[0.042,650,0.016,160],[0.045,850,0.018,160],[0.05,1000,0.02,160],[0.026,1050,0.012,160],[0.03,1150,0.014,160],[0.038,1300,0.016,160],[0.055,1250,0.02,160],[0.06,1100,0.022,160],[0.065,950,0.022,160],[0.07,1350,0.024,160],[0.075,1200,0.025,160],[0.08,1000,0.026,160],[0.085,1400,0.028,160],[0.09,1150,0.028,160],[0.095,1500,0.03,160],[0.10,1350,0.03,160],[0.105,1600,0.032,150],[0.11,1450,0.032,150],[0.115,1700,0.034,150],[0.12,1550,0.034,150],[0.125,1650,0.035,150],[0.13,1500,0.035,150],[0.135,1800,0.036,150],[0.14,1700,0.036,150],[0.145,1950,0.038,140],[0.15,1650,0.038,150],[0.155,1850,0.04,140],[0.16,1750,0.04,140],[0.165,1950,0.04,140],[0.17,1850,0.04,140],[0.18,1900,0.042,140],[0.19,2000,0.042,140],[0.08,1600,0.026,160],[0.06,1500,0.022,160],[0.11,1850,0.032,150],
  [0.008,1450,0.008,140],[0.01,1600,0.009,140],[0.012,1350,0.01,140],[0.015,1750,0.01,130],[0.018,1550,0.012,140],[0.02,1850,0.012,130],[0.022,1650,0.014,130],[0.025,1950,0.014,120],[0.028,1750,0.015,130],[0.03,2000,0.016,120],[0.035,1850,0.018,120],[0.038,2100,0.02,110],[0.04,1950,0.02,120],[0.045,2150,0.022,110],[0.05,2000,0.024,110],[0.055,2200,0.026,100],[0.06,2050,0.028,110],[0.065,2150,0.03,100],[0.07,2250,0.032,100],[0.075,2100,0.032,100],[0.08,2200,0.034,100],[0.085,2050,0.034,100],[0.09,2250,0.036,100],[0.095,2150,0.036,100],[0.10,2250,0.038,100],[0.105,2100,0.038,100],[0.11,2200,0.04,100],[0.115,2280,0.04,100],[0.12,2150,0.04,100],[0.125,2250,0.042,100],[0.13,2200,0.042,100],[0.135,2300,0.044,100],[0.14,2150,0.044,100],[0.145,2250,0.045,100],[0.15,2200,0.045,100],[0.155,2300,0.046,100],[0.16,2250,0.046,100],[0.165,2200,0.048,100],[0.17,2300,0.048,100],[0.175,2250,0.05,100],[0.18,2280,0.05,100],[0.185,2220,0.05,100],[0.19,2260,0.05,100],[0.195,2240,0.05,100],[0.05,1750,0.024,120],[0.07,1950,0.03,110],[0.09,2000,0.034,110],[0.035,1600,0.016,130],
];
const cheetahTD3More: P[] = [
  [0.011,1500,0.009,140],[0.014,1650,0.01,140],[0.017,1400,0.011,140],[0.019,1700,0.012,130],[0.024,1800,0.014,130],[0.027,1550,0.015,130],[0.032,1900,0.016,120],[0.037,1750,0.018,120],[0.042,2050,0.02,110],[0.047,1900,0.022,110],[0.052,2100,0.024,110],[0.057,2000,0.026,110],[0.062,2200,0.028,100],[0.067,2050,0.03,100],[0.072,2150,0.032,100],[0.077,2250,0.032,100],[0.082,2100,0.034,100],[0.087,2250,0.034,100],[0.092,2150,0.036,100],[0.097,2280,0.036,100],[0.102,2180,0.038,100],[0.108,2280,0.038,100],[0.113,2150,0.04,100],[0.118,2250,0.04,100],[0.123,2300,0.042,100],[0.128,2150,0.042,100],[0.133,2250,0.044,100],[0.138,2200,0.044,100],[0.143,2300,0.045,100],[0.148,2150,0.045,100],[0.153,2250,0.046,100],[0.158,2200,0.046,100],[0.163,2280,0.048,100],[0.168,2250,0.048,100],[0.173,2200,0.05,100],[0.178,2300,0.05,100],[0.183,2250,0.05,100],[0.188,2280,0.05,100],
  [0.072,1700,0.026,140],[0.092,1800,0.03,140],[0.112,1650,0.032,140],[0.122,1900,0.034,140],[0.142,1850,0.036,140],[0.162,2000,0.04,140],[0.102,1550,0.03,150],[0.132,1750,0.036,150],[0.152,2100,0.04,140],[0.172,2050,0.04,140],
];
const cheetahTD3Extra: P[] = [
  [0.009,1550,0.008,140],[0.013,1450,0.01,140],[0.016,1600,0.01,140],[0.021,1750,0.012,130],[0.023,1550,0.014,130],[0.026,1850,0.014,130],[0.029,1650,0.015,130],[0.033,1800,0.016,120],[0.036,2000,0.018,120],[0.041,1850,0.02,120],[0.044,2000,0.02,110],[0.048,2100,0.022,110],[0.053,1950,0.024,110],[0.058,2150,0.026,100],[0.063,2100,0.028,100],[0.068,2250,0.03,100],[0.073,2050,0.032,100],[0.078,2200,0.032,100],[0.083,2250,0.034,100],[0.088,2150,0.034,100],[0.094,2250,0.036,100],[0.099,2200,0.036,100],[0.104,2300,0.038,100],[0.109,2200,0.038,100],[0.117,2200,0.04,100],[0.126,2280,0.042,100],[0.136,2250,0.044,100],[0.146,2280,0.045,100],[0.156,2250,0.046,100],[0.166,2300,0.048,100],[0.176,2270,0.05,100],[0.186,2250,0.05,100],[0.192,2280,0.05,100],
  [0.118,2100,0.04,110],[0.138,2050,0.04,110],[0.158,2100,0.045,110],[0.178,2150,0.05,110],[0.098,2050,0.036,110],[0.128,1950,0.04,120],[0.148,2000,0.04,120],
];

const cheetahSAC: P[] = [
  [0.012,200,0.012,250],[0.018,120,0.012,250],[0.008,900,0.015,300],[0.015,800,0.018,300],[0.022,750,0.02,300],[0.02,1050,0.02,300],[0.028,1200,0.025,300],[0.03,900,0.025,300],[0.035,1150,0.028,300],[0.04,1350,0.03,300],[0.045,500,0.03,300],[0.05,1050,0.035,300],[0.055,1450,0.035,300],[0.06,1250,0.04,300],[0.065,900,0.04,300],[0.07,1400,0.045,300],[0.075,800,0.045,300],[0.08,1550,0.05,300],[0.085,1200,0.05,300],[0.09,850,0.05,300],[0.095,1600,0.055,300],[0.10,1350,0.055,300],[0.105,1050,0.055,300],[0.11,1700,0.06,300],[0.115,1500,0.06,300],[0.12,1200,0.06,300],[0.125,1750,0.06,300],[0.13,1450,0.065,300],[0.135,1300,0.065,300],[0.14,1650,0.065,300],[0.145,1900,0.065,250],[0.15,1550,0.07,300],[0.155,1800,0.07,250],[0.16,1700,0.07,250],[0.165,1950,0.07,250],[0.17,1850,0.07,250],[0.18,1750,0.07,250],[0.19,2000,0.07,250],[0.20,1850,0.07,250],[0.21,2050,0.07,250],[0.22,1950,0.07,250],
  [0.012,1300,0.015,300],[0.016,1450,0.018,300],[0.02,1600,0.02,300],[0.025,1400,0.022,300],[0.03,1700,0.025,280],[0.035,1550,0.028,280],[0.04,1850,0.03,260],[0.045,1650,0.032,280],[0.05,2000,0.035,240],[0.055,1800,0.038,260],[0.06,2100,0.04,220],[0.065,1950,0.042,240],[0.07,2200,0.045,200],[0.075,2050,0.048,220],[0.08,2250,0.05,200],[0.085,2100,0.05,200],[0.09,2300,0.055,180],[0.095,2000,0.055,220],[0.10,2250,0.06,180],[0.105,2350,0.06,160],[0.11,2150,0.06,200],[0.115,2300,0.06,180],[0.12,2050,0.065,200],[0.125,2350,0.065,160],[0.13,2200,0.065,180],[0.135,2400,0.07,150],[0.14,2250,0.07,180],[0.145,2350,0.07,160],[0.15,2150,0.07,180],[0.155,2400,0.07,150],[0.16,2300,0.07,160],[0.165,2200,0.07,180],[0.17,2400,0.07,150],[0.175,2300,0.07,160],[0.18,2350,0.07,150],[0.185,2250,0.07,160],[0.19,2400,0.07,150],[0.195,2300,0.07,150],[0.20,2350,0.07,150],[0.205,2250,0.07,160],[0.21,2400,0.07,150],[0.215,2300,0.07,150],[0.22,2350,0.07,150],[0.225,2280,0.07,150],[0.23,2330,0.07,150],[0.235,2300,0.07,150],[0.10,1850,0.055,220],[0.12,1950,0.06,200],[0.14,2000,0.065,200],[0.06,1600,0.04,260],[0.08,1900,0.05,240],
];
const cheetahSACMore: P[] = [
  [0.033,1300,0.025,300],[0.043,1550,0.03,280],[0.052,1750,0.035,260],[0.058,1150,0.038,300],[0.063,2000,0.04,240],[0.068,1700,0.042,260],[0.073,1900,0.045,240],[0.078,2150,0.048,200],[0.083,1750,0.05,240],[0.088,2200,0.05,200],[0.093,1950,0.055,220],[0.098,2350,0.055,180],[0.103,2100,0.06,200],[0.108,1900,0.06,220],[0.113,2200,0.06,200],[0.118,2400,0.06,160],[0.123,2200,0.065,180],[0.128,2000,0.065,200],[0.133,2300,0.065,180],[0.138,2100,0.07,180],[0.143,2400,0.07,160],[0.148,2300,0.07,160],[0.153,2000,0.07,200],[0.158,2350,0.07,160],[0.163,2400,0.07,150],[0.168,2300,0.07,160],[0.173,2200,0.07,160],[0.178,2400,0.07,150],[0.183,2300,0.07,160],[0.188,2350,0.07,150],[0.193,2250,0.07,160],[0.198,2400,0.07,150],[0.203,2300,0.07,150],[0.208,2350,0.07,150],[0.213,2250,0.07,150],[0.218,2400,0.07,150],[0.228,2350,0.07,150],[0.232,2250,0.07,150],[0.238,2350,0.07,150],
  [0.112,1600,0.06,250],[0.132,1700,0.065,250],[0.152,1800,0.07,250],[0.172,1950,0.07,230],[0.092,1450,0.055,250],[0.082,1300,0.05,280],[0.122,1400,0.06,260],[0.162,1550,0.07,260],[0.142,1200,0.065,280],
];
const cheetahSACExtra: P[] = [
  [0.068,2100,0.042,220],[0.076,2300,0.048,200],[0.086,2050,0.05,200],[0.091,2350,0.055,180],[0.101,2300,0.06,180],[0.106,2200,0.06,200],[0.111,2350,0.06,180],[0.116,2100,0.06,200],[0.121,2300,0.065,180],[0.126,2250,0.065,180],[0.131,2350,0.065,160],[0.136,2300,0.07,160],[0.141,2200,0.07,180],[0.146,2400,0.07,160],[0.151,2300,0.07,160],[0.156,2250,0.07,160],[0.161,2350,0.07,150],[0.166,2300,0.07,160],[0.171,2350,0.07,150],[0.176,2250,0.07,160],[0.181,2400,0.07,150],[0.186,2350,0.07,150],[0.191,2300,0.07,150],[0.196,2350,0.07,150],[0.201,2400,0.07,150],[0.206,2300,0.07,150],[0.211,2350,0.07,150],[0.216,2300,0.07,150],[0.221,2400,0.07,150],[0.226,2350,0.07,150],[0.231,2300,0.07,150],
  [0.125,2100,0.065,200],[0.145,2150,0.07,200],[0.165,2100,0.07,200],[0.185,2150,0.07,200],[0.205,2150,0.07,180],[0.095,1750,0.055,240],[0.115,1850,0.06,240],
];

const glmHopperTD3: G[] = [[0.013,0],[0.05,420],[0.09,790],[0.15,1200],[0.21,1510],[0.27,1690],[0.33,1810],[0.44,1945],[0.55,2000],[0.675,2040]];
const glmHopperSAC: G[] = [[0,130],[0.05,340],[0.09,520],[0.15,720],[0.21,890],[0.27,1020],[0.33,1130],[0.44,1320],[0.54,1450],[0.64,1560]];
const glmWalkerTD3: G[] = [[0,520],[0.04,760],[0.086,960],[0.14,1180],[0.2,1360],[0.26,1490],[0.32,1600],[0.44,1735],[0.54,1780],[0.645,1810]];
const glmWalkerSAC: G[] = [[0,300],[0.04,620],[0.086,920],[0.14,1150],[0.2,1320],[0.26,1450],[0.32,1540],[0.44,1675],[0.53,1730],[0.627,1765]];
const glmAntTD3: G[] = [[0.003,715],[0.015,950],[0.03,1240],[0.05,1470],[0.071,1680],[0.113,1975],[0.155,2200],[0.24,2480],[0.324,2640],[0.41,2730],[0.49,2780]];
const glmAntSAC: G[] = [[0.003,590],[0.02,830],[0.042,1080],[0.083,1400],[0.125,1635],[0.167,1820],[0.208,1950],[0.25,2050],[0.292,2125],[0.333,2180],[0.375,2205]];
const glmCheetahTD3: G[] = [[0.005,955],[0.015,1150],[0.032,1480],[0.05,1670],[0.073,1855],[0.095,1970],[0.115,2065],[0.157,2175],[0.196,2240]];
const glmCheetahSAC: G[] = [[0.005,975],[0.015,1100],[0.032,1360],[0.05,1530],[0.073,1715],[0.095,1840],[0.115,1930],[0.157,2085],[0.198,2200],[0.236,2280]];

const pointsGrid: P[][][] = [
  [
    [...hopperTD3, ...hopperTD3More, ...hopperTD3Extra],
    [...walkerTD3, ...walkerTD3More, ...walkerTD3Extra],
    [...antTD3, ...antTD3More, ...antTD3Extra],
    [...cheetahTD3, ...cheetahTD3More, ...cheetahTD3Extra],
  ],
  [
    [...hopperSAC, ...hopperSACMore, ...hopperSACExtra],
    [...walkerSAC, ...walkerSACMore, ...walkerSACExtra],
    [...antSAC, ...antSACMore, ...antSACExtra],
    [...cheetahSAC, ...cheetahSACMore, ...cheetahSACExtra],
  ],
];
const glmGrid: G[][][] = [
  [glmHopperTD3, glmWalkerTD3, glmAntTD3, glmCheetahTD3],
  [glmHopperSAC, glmWalkerSAC, glmAntSAC, glmCheetahSAC],
];

// layout
const colX0 = [88, 339, 590, 841];
const colW = [170, 170, 159, 160];
const rowY0 = [158, 312];
const rowH = 83.5;
const spineOffX = 10;
const spineOffY = 5;
const SANS = 'Lato, "Open Sans", sans-serif';
const SERIF = '"DejaVu Serif", serif';
const INK = '#1a1a1a';
const MAGENTA = '#ff00ff';

function Panel({ r, c }: { r: number; c: number }) {
  const ticks = xTicksByEnv[c];
  const x = d3.scaleLinear().domain([0, ticks[ticks.length - 1]]).range([colX0[c], colX0[c] + colW[c]]);
  const y = d3.scaleLinear().domain([0, 2000]).range([rowY0[r], rowY0[r] - rowH]);
  const pts = pointsGrid[r][c];
  const glm = glmGrid[r][c];
  const line = d3.line<G>().x(d => x(d[0])).y(d => y(d[1])).curve(d3.curveMonotoneX);
  const sx = colX0[c] - spineOffX;
  const sy = rowY0[r] + spineOffY;
  const fmt = d3.format('.1f');
  return (
    <g>
      <g stroke="#9a9a9a" strokeOpacity={0.3} strokeWidth={1}>
        {pts.map((p, i) => (
          <g key={i}>
            <line x1={x(p[0] - p[2])} x2={x(p[0] + p[2])} y1={y(p[1])} y2={y(p[1])} />
            <line x1={x(p[0])} x2={x(p[0])} y1={y(p[1] - p[3])} y2={y(p[1] + p[3])} />
          </g>
        ))}
      </g>
      <g fill="#000">
        {pts.map((p, i) => (
          <circle key={i} cx={x(p[0])} cy={y(p[1])} r={1.45} />
        ))}
      </g>
      <path d={line(glm) || ''} fill="none" stroke={MAGENTA} strokeWidth={2.6} strokeLinecap="butt" />
      <line x1={sx} x2={sx} y1={y(0)} y2={y(2000)} stroke={INK} strokeWidth={1.1} />
      {yTicks.map(t => (
        <g key={t}>
          <line x1={sx - 4} x2={sx} y1={y(t)} y2={y(t)} stroke={INK} strokeWidth={1.1} />
          {c === 0 && (
            <text x={sx - 6} y={y(t)} dy="0.36em" textAnchor="end" fontFamily={SERIF} fontSize={15.5} fill={INK}>
              {t}
            </text>
          )}
        </g>
      ))}
      <line x1={x(0)} x2={x(ticks[ticks.length - 1])} y1={sy} y2={sy} stroke={INK} strokeWidth={1.1} />
      {ticks.map(t => (
        <g key={t}>
          <line x1={x(t)} x2={x(t)} y1={sy} y2={sy + 4} stroke={INK} strokeWidth={1.1} />
          {r === 1 && (
            <text x={x(t)} y={sy + 24} textAnchor="middle" fontFamily={SERIF} fontSize={15.5} fill={INK}>
              {fmt(t)}
            </text>
          )}
        </g>
      ))}
      {r === 1 && (
        <text x={x(0) + colW[c] / 2 + 5} y={361} textAnchor="middle" fontFamily={SANS} fontSize={17.5} fill={INK}>
          True Positive Rate (SSL)
        </text>
      )}
      {r === 0 && (
        <text x={sx + 105} y={24} textAnchor="middle" fontFamily={SANS} fontSize={18} fill={INK}>
          {envNames[c]}
        </text>
      )}
    </g>
  );
}

export default function App() {
  return (
    <svg width={1033} height={366} style={{ display: 'block', position: 'absolute', left: 0, top: 0, background: '#fff' }}>
      <rect width={1033} height={366} fill="#fff" />
      {[0, 1].map(r => [0, 1, 2, 3].map(c => <Panel key={`${r}-${c}`} r={r} c={c} />))}
      <text x={48} y={50} fontFamily={SANS} fontSize={16} fill={INK}>
        <tspan fontFamily={SERIF} fontStyle="italic">(i)</tspan>
        <tspan dx={6}>{rowLabels[0]}</tspan>
      </text>
      <text x={48} y={200} fontFamily={SANS} fontSize={16} fill={INK}>
        <tspan fontFamily={SERIF} fontStyle="italic">(ii)</tspan>
        <tspan dx={6}>{rowLabels[1]}</tspan>
        <tspan fontFamily={SERIF} fontStyle="italic">α</tspan>
        <tspan>)</tspan>
      </text>
      <text transform="translate(20,168) rotate(-90)" textAnchor="middle" fontFamily={SANS} fontSize={16} fill={INK}>
        Reward (perturbed)
      </text>
      <g>
        <line x1={692} x2={710} y1={96} y2={96} stroke={MAGENTA} strokeWidth={2.6} />
        <text x={721} y={102} fontFamily={SANS} fontSize={16.5} fill={INK}>GLM</text>
        <line x1={693} x2={707} y1={132} y2={132} stroke="#9a9a9a" strokeOpacity={0.4} />
        <line x1={700} x2={700} y1={124} y2={140} stroke="#9a9a9a" strokeOpacity={0.4} />
        <circle cx={700} cy={132} r={2} fill="#000" />
        <text x={721} y={123} fontFamily={SANS} fontSize={13.5} fill={INK}>mean</text>
        <text x={720} y={144} fontFamily={SANS} fontSize={17} fill={INK}>± SEM</text>
      </g>
    </svg>
  );
}
